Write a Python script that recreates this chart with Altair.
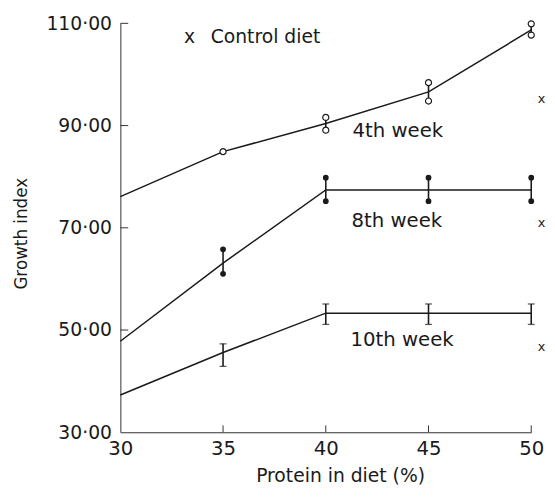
import altair as alt
import pandas as pd

# ---- data ----
protein = [30, 35, 40, 45, 50]

week4 = [76.1, 84.9, 90.4, 96.6, 108.7]
week4_low = [None, None, 89.1, 94.8, 107.7]
week4_high = [None, None, 91.6, 98.4, 109.9]

week8 = [47.8, 63.1, 77.4, 77.4, 77.4]
week8_low = [None, 61.0, 75.2, 75.2, 75.2]
week8_high = [None, 65.8, 79.8, 79.8, 79.8]

week10 = [37.3, 45.6, 53.3, 53.3, 53.3]
week10_low = [None, 42.9, 51.1, 51.1, 51.1]
week10_high = [None, 47.3, 55.1, 55.1, 55.1]

control_protein = [50.5, 50.5, 50.5]
control_values = [95.2, 70.9, 46.7]

legend_texts = ["x", "Control diet"]
legend_x = [33.1, 34.4]
legend_y = [106.1, 106.1]

week_texts = ["4th week", "8th week", "10th week"]
week_label_x = [41.3, 41.25, 41.2]
week_label_y = [87.8, 70.2, 46.8]

x_ticks = [30, 35, 40, 45, 50]
y_ticks = [30, 50, 70, 90, 110]

# ---- tables ----
series = {"4th week": week4, "8th week": week8, "10th week": week10}
lines_df = pd.DataFrame(
    [{"series": s, "protein": p, "value": v} for s, vals in series.items() for p, v in zip(protein, vals)]
)

bars = []
for s, lo_l, hi_l in [("4th week", week4_low, week4_high),
                      ("8th week", week8_low, week8_high),
                      ("10th week", week10_low, week10_high)]:
    for p, lo, hi in zip(protein, lo_l, hi_l):
        if lo is not None:
            bars.append({"series": s, "protein": p, "value": lo, "high": hi})
bars_df = pd.DataFrame(bars)

open_pts = [{"protein": protein[1], "value": week4[1]}]
for p, lo, hi in zip(protein, week4_low, week4_high):
    if lo is not None:
        open_pts += [{"protein": p, "value": lo}, {"protein": p, "value": hi}]
open_df = pd.DataFrame(open_pts)

filled_pts = []
for p, lo, hi in zip(protein, week8_low, week8_high):
    if lo is not None:
        filled_pts += [{"protein": p, "value": lo}, {"protein": p, "value": hi}]
filled_df = pd.DataFrame(filled_pts)

caps = []
for p, lo, hi in zip(protein, week10_low, week10_high):
    if lo is not None:
        caps += [{"protein": p, "value": lo}, {"protein": p, "value": hi}]
caps_df = pd.DataFrame(caps)

control_df = pd.DataFrame({"protein": control_protein, "value": control_values, "t": ["x"] * 3})
legend_df = pd.DataFrame({"t": legend_texts, "protein": legend_x, "value": legend_y})
weeklab_df = pd.DataFrame({"t": week_texts, "protein": week_label_x, "value": week_label_y})
ytick_df = pd.DataFrame({"value": [v for v in y_ticks if v != y_ticks[0]]})
xtick_df = pd.DataFrame({"protein": [v for v in x_ticks if v != x_ticks[0]]})

FONT = "DejaVu Sans"
INK = "#1a1a1a"
W, H = 417, 415

xs = alt.Scale(domain=[30, 50], nice=False, zero=False)
ys = alt.Scale(domain=[30, 110], nice=False, zero=False)

x_axis = alt.Axis(
    values=x_ticks, title="Protein in diet (%)", ticks=False, tickSize=0, grid=False,
    labelFont=FONT, labelFontSize=20, labelColor=INK, labelPadding=7, labelFlush=False,
    titleFont=FONT, titleFontSize=19, titleFontWeight="normal", titleColor=INK,
    titleX=223, titleY=50, titleBaseline="alphabetic", titleAnchor="middle",
    domainColor="#333333", domainWidth=1.2,
)
y_axis = alt.Axis(
    values=y_ticks, title="Growth index", ticks=False, tickSize=0, grid=False,
    labelExpr="datum.value + '·00'",
    labelFont=FONT, labelFontSize=19, labelColor=INK, labelPadding=9, labelFlush=False,
    titleFont=FONT, titleFontSize=17, titleFontWeight="normal", titleColor=INK,
    titleAngle=270, titleX=-95, titleY=213, titleBaseline="alphabetic", titleAlign="center",
    domainColor="#555555", domainWidth=1.2,
)


def X():
    return alt.X("protein:Q", scale=xs, axis=x_axis, title="Protein in diet (%)")


def Y():
    return alt.Y("value:Q", scale=ys, axis=y_axis, title="Growth index")


lines = alt.Chart(lines_df).mark_line(color=INK, strokeWidth=1.5).encode(
    x=X(), y=Y(), detail="series:N"
)
rules = alt.Chart(bars_df).mark_rule(color=INK, strokeWidth=1.6).encode(
    x=X(), y=Y(), y2="high:Q"
)
open_c = alt.Chart(open_df).mark_point(
    shape="circle", filled=True, fill="white", stroke=INK, strokeWidth=1.2, size=38, opacity=1
).encode(x=X(), y=Y())
filled_c = alt.Chart(filled_df).mark_point(
    shape="circle", filled=True, color=INK, size=34, opacity=1
).encode(x=X(), y=Y())
cap_t = alt.Chart(caps_df).mark_tick(
    orient="horizontal", color=INK, size=7, thickness=1.3
).encode(x=X(), y=Y())
control_t = alt.Chart(control_df).mark_text(
    font=FONT, fontSize=13, color=INK, align="center", baseline="middle"
).encode(x=X(), y=Y(), text="t:N")
legend_t = alt.Chart(legend_df).mark_text(
    font=FONT, fontSize=19, color=INK, align="left", baseline="alphabetic"
).encode(x=X(), y=Y(), text="t:N")
week_t = alt.Chart(weeklab_df).mark_text(
    font=FONT, fontSize=20, color=INK, align="left", baseline="alphabetic"
).encode(x=X(), y=Y(), text="t:N")
ytick_r = alt.Chart(ytick_df).mark_rule(color="#333333", strokeWidth=1).encode(
    y=Y(), x=alt.value(0), x2=alt.value(8)
)
xtick_r = alt.Chart(xtick_df).mark_rule(color="#333333", strokeWidth=1).encode(
    x=X(), y=alt.value(H), y2=alt.value(H - 7)
)

chart = alt.layer(
    lines, rules, open_c, filled_c, cap_t, control_t, legend_t, week_t, ytick_r, xtick_r
).properties(
    width=W, height=H,
    autosize=alt.AutoSizeParams(type="none"),
    padding={"left": 114, "top": 12, "right": 16, "bottom": 54},
    background="white",
).configure_view(stroke=None)

chart.save("out.html", embed_options={"renderer": "svg", "actions": False})
